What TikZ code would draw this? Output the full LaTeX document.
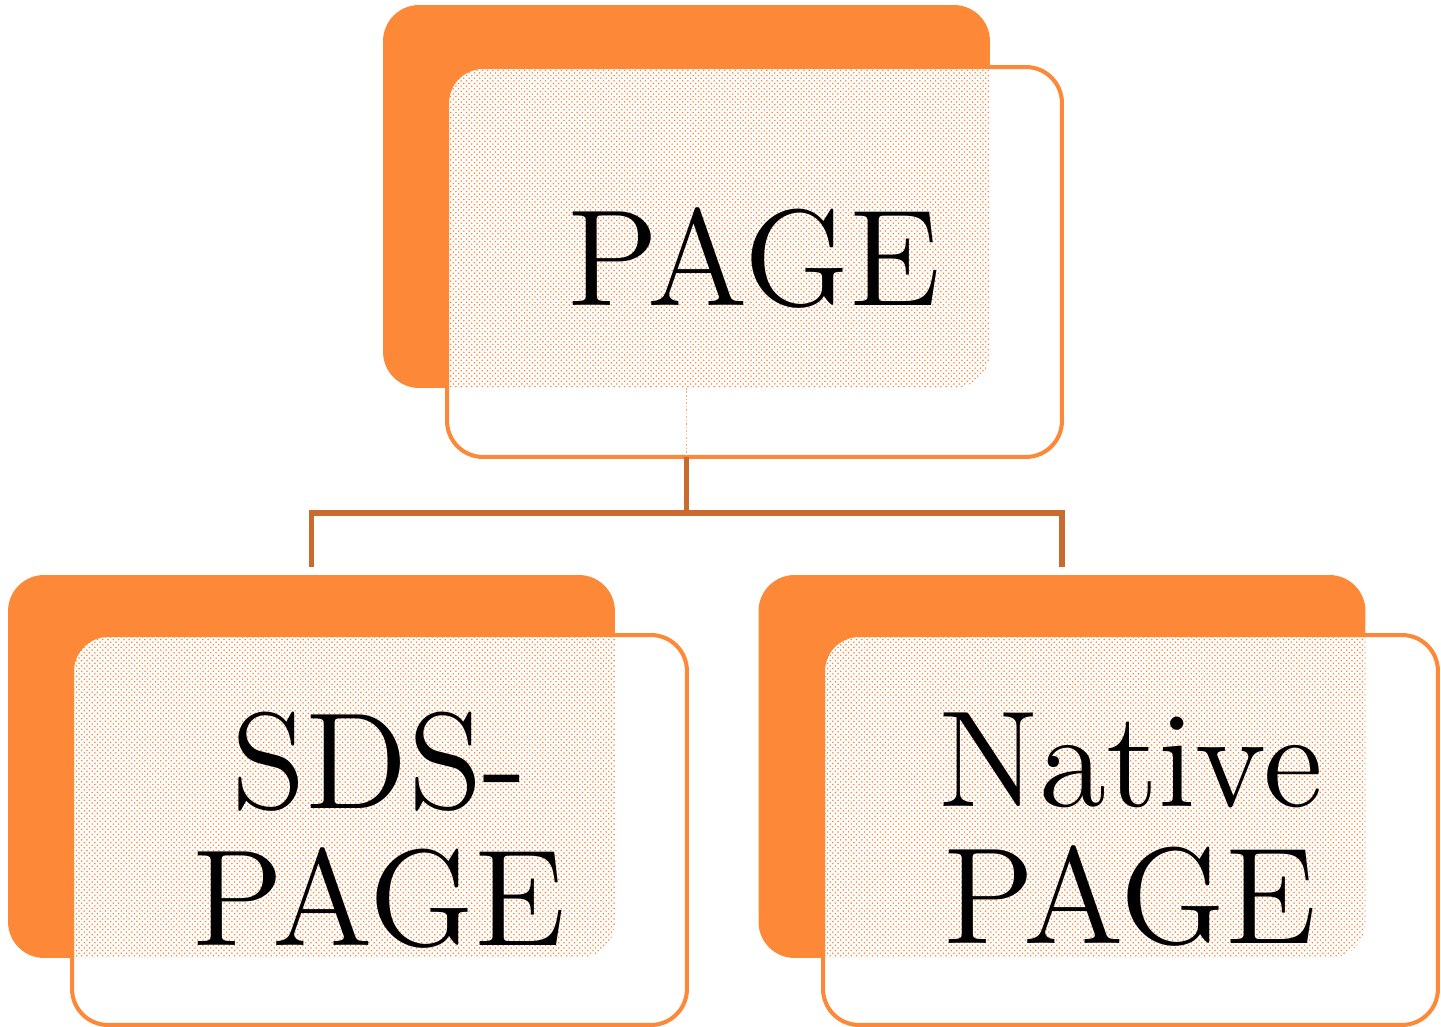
\documentclass[tikz,border=0pt]{standalone}
\usepackage{fontspec}
\setmainfont{lmroman12-regular}[Extension=.otf]
\usepackage{tikz}
\usetikzlibrary{patterns}
\usetikzlibrary{positioning}
\definecolor{orangevif}{RGB}{253,137,56}
\definecolor{orangefonce}{RGB}{201,106,46}
\tikzstyle{arriere}=[
        rectangle,
        rounded corners=0.72cm,
        fill=orangevif,
        minimum width=12.14cm,
        minimum height=7.66cm,
        outer sep=0pt,
        inner sep=0pt
]
\tikzstyle{avant}=[
        rectangle,
        rounded corners=0.72cm,
        draw=orangevif,
        line width=2.3pt,
        fill=white,
        minimum width=12.3cm,
        minimum height=7.8cm,
        outer sep=0pt,
        inner sep=0pt
]
\tikzstyle{titre}=[align=center,text=black,font=\fontsize{78}{78}\selectfont]
\tikzstyle{points}=[pattern=crosshatch dots,pattern color=orangevif,rounded corners=0.72cm]
\tikzstyle{lien}=[draw=orangefonce,line width=3.2pt]

\begin{document}
\begin{tikzpicture}[x=0.02cm,y=-0.02cm]
\useasboundingbox (0,0) rectangle (1441,1027);
\node[arriere] (b0) at (686.5,196.5) {};
\node[arriere] (b1) at (311.5,766.5) {};
\node[arriere] (b2) at (1062,766.5) {};
\node[avant] (f0) at (754.5,262) {};
\node[avant] (f1) at (379.5,830) {};
\node[avant] (f2) at (1130.5,830) {};
%zones communes
\begin{scope}
\clip[rounded corners=0.72cm] (f0.south west) rectangle (f0.north east);
\path[points] (b0.south west) rectangle (b0.north east);
\end{scope}
\begin{scope}
\clip[rounded corners=0.72cm] (f1.south west) rectangle (f1.north east);
\path[points] (b1.south west) rectangle (b1.north east);
\end{scope}
\begin{scope}
\clip[rounded corners=0.72cm] (f2.south west) rectangle (f2.north east);
\path[points] (b2.south west) rectangle (b2.north east);
\end{scope}
\node[titre] (t0) at ([yshift=0.08cm]f0) {PAGE};
\node[titre] (t1) at (f1) {SDS-\\PAGE};
\node[titre] (t2) at (f2) {Native\\PAGE};
%liens
\coordinate (j) at (686.5,513);
\draw[orangevif!70,densely dotted,line width=1pt] (b0.south) -- (b0.south |- f0.south);
\draw[lien] (b0.south |- f0.south) -- (j);
\draw[lien,shorten >=0.16cm] (j) -| (b1.north);
\draw[lien,shorten >=0.16cm] (j) -| (b2.north);
\end{tikzpicture}
\end{document}
